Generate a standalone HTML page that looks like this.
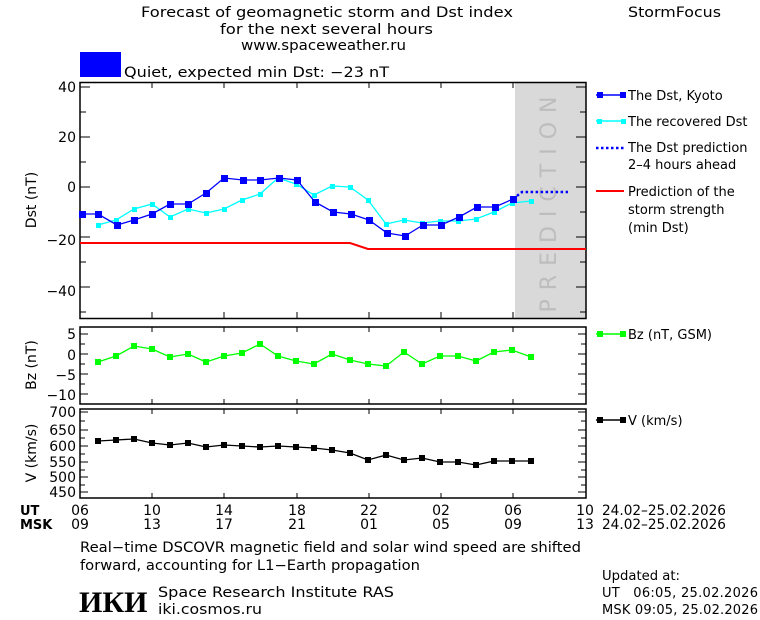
<!DOCTYPE html>
<html><head><style>
html,body{margin:0;padding:0;background:#fff;}
svg{display:block;font-family:"DejaVu Sans","Liberation Sans",sans-serif;}
text{font-size:14px;fill:#000;}
</style></head><body>
<svg width="760" height="620" viewBox="0 0 760 620" xmlns="http://www.w3.org/2000/svg">
<rect width="760" height="620" fill="#fff"/>
<text x="141" y="17" textLength="372" lengthAdjust="spacingAndGlyphs">Forecast of geomagnetic storm and Dst index</text>
<text x="220" y="34" textLength="213" lengthAdjust="spacingAndGlyphs">for the next several hours</text>
<text x="241" y="50" textLength="165" lengthAdjust="spacingAndGlyphs">www.spaceweather.ru</text>
<text x="628" y="17" textLength="93" lengthAdjust="spacingAndGlyphs">StormFocus</text>
<rect x="80" y="52" width="41" height="25" fill="#0000ff"/>
<text x="124" y="77" textLength="265" lengthAdjust="spacingAndGlyphs">Quiet, expected min Dst: −23 nT</text>

<rect x="515" y="82" width="71" height="236" fill="#d9d9d9"/>
<text transform="translate(556,200) rotate(-90)" text-anchor="middle" style="font-size:22px;fill:#bdbdbd;letter-spacing:9px">PREDICTION</text>
<g stroke="#000" stroke-width="1.5" fill="none">
<rect x="80" y="82.5" width="506" height="236"/>
<rect x="80" y="327" width="506" height="77"/>
<rect x="80" y="409" width="506" height="89"/>
</g>
<g stroke="#000" stroke-width="1">
<path d="M80 87h10M80 112h6M80 137h10M80 162h6M80 187h10M80 212h6M80 237h10M80 262h6M80 287h10M80 312h6"/>
<path d="M586 87h-10M586 112h-6M586 137h-10M586 162h-6M586 187h-10M586 212h-6M586 237h-10M586 262h-6M586 287h-10M586 312h-6"/>
<path d="M152 82v6M224 82v6M297 82v6M369 82v6M441 82v6M513 82v6M152 318v-6M224 318v-6M297 318v-6M369 318v-6M441 318v-6M513 318v-6"/>
<path d="M152 327v5M224 327v5M297 327v5M369 327v5M441 327v5M513 327v5M152 404v-5M224 404v-5M297 404v-5M369 404v-5M441 404v-5M513 404v-5"/>
<path d="M152 409v5M224 409v5M297 409v5M369 409v5M441 409v5M513 409v5M152 498v-5M224 498v-5M297 498v-5M369 498v-5M441 498v-5M513 498v-5"/>
<path d="M80 334h8M80 344h5M80 354h8M80 364h5M80 374h8M80 384h5M80 394h8M586 334h-8M586 344h-5M586 354h-8M586 364h-5M586 374h-8M586 384h-5M586 394h-8"/>
<path d="M80 412h8M80 421h5M80 430h8M80 438h5M80 446h8M80 454h5M80 462h8M80 470h5M80 477h8M80 485h5M80 492h8M586 412h-8M586 421h-5M586 430h-8M586 438h-5M586 446h-8M586 454h-5M586 462h-8M586 470h-5M586 477h-8M586 485h-5M586 492h-8"/>
</g>
<g text-anchor="end">
<text x="76" y="92">40</text><text x="76" y="142">20</text><text x="76" y="192">0</text><text x="76" y="245">−20</text><text x="76" y="296">−40</text>
<text x="76" y="339">5</text><text x="76" y="360">0</text><text x="76" y="380">−5</text><text x="76" y="400">−10</text>
<text x="76" y="417">700</text><text x="76" y="435">650</text><text x="76" y="451">600</text><text x="76" y="467">550</text><text x="76" y="482">500</text><text x="76" y="497">450</text>
</g>
<text transform="translate(36,200) rotate(-90)" text-anchor="middle">Dst (nT)</text>
<text transform="translate(36,365) rotate(-90)" text-anchor="middle">Bz (nT)</text>
<text transform="translate(36,453) rotate(-90)" text-anchor="middle">V (km/s)</text>

<polyline points="80,243 350,243 368,249 586,249" fill="none" stroke="#ff0000" stroke-width="2"/>
<polyline fill="none" stroke="#00ffff" stroke-width="1.3" points="98,225 116,220 134,209 152,204 170,217 188,209 206,213 224,209 242,200 260,194 278,178 296,184 314,195 332,186 350,187 368,200 386,224 404,220 422,223 440,221 458,221 476,219 494,212 512,203 531,201"/>
<g fill="#00ffff">
<rect x="96" y="223" width="5" height="5"/><rect x="114" y="218" width="5" height="5"/><rect x="132" y="207" width="5" height="5"/><rect x="150" y="202" width="5" height="5"/><rect x="168" y="215" width="5" height="5"/><rect x="186" y="207" width="5" height="5"/><rect x="204" y="211" width="5" height="5"/><rect x="222" y="207" width="5" height="5"/><rect x="240" y="198" width="5" height="5"/><rect x="258" y="192" width="5" height="5"/><rect x="276" y="176" width="5" height="5"/><rect x="294" y="182" width="5" height="5"/><rect x="312" y="193" width="5" height="5"/><rect x="330" y="184" width="5" height="5"/><rect x="348" y="185" width="5" height="5"/><rect x="366" y="198" width="5" height="5"/><rect x="384" y="222" width="5" height="5"/><rect x="402" y="218" width="5" height="5"/><rect x="420" y="221" width="5" height="5"/><rect x="438" y="219" width="5" height="5"/><rect x="456" y="219" width="5" height="5"/><rect x="474" y="217" width="5" height="5"/><rect x="492" y="210" width="5" height="5"/><rect x="510" y="201" width="5" height="5"/><rect x="529" y="199" width="5" height="5"/>
</g>
<polyline fill="none" stroke="#0000ff" stroke-width="1.3" points="82,214 98,214 117,225 134,220 152,214 170,204 188,204 206,193 224,178 243,180 260,180 279,178 297,180 315,202 333,212 351,214 369,220 387,233 405,236 423,225 441,225 459,217 477,207 495,207 513,199"/>
<polyline fill="none" stroke="#0000ff" stroke-width="2.5" stroke-dasharray="2.5,2.5" points="513,199 522,192 568,192"/>
<g fill="#0000ff">
<rect x="79" y="211" width="7" height="7"/><rect x="95" y="211" width="7" height="7"/><rect x="114" y="222" width="7" height="7"/><rect x="131" y="217" width="7" height="7"/><rect x="149" y="211" width="7" height="7"/><rect x="167" y="201" width="7" height="7"/><rect x="185" y="201" width="7" height="7"/><rect x="203" y="190" width="7" height="7"/><rect x="221" y="175" width="7" height="7"/><rect x="240" y="177" width="7" height="7"/><rect x="257" y="177" width="7" height="7"/><rect x="276" y="175" width="7" height="7"/><rect x="294" y="177" width="7" height="7"/><rect x="312" y="199" width="7" height="7"/><rect x="330" y="209" width="7" height="7"/><rect x="348" y="211" width="7" height="7"/><rect x="366" y="217" width="7" height="7"/><rect x="384" y="230" width="7" height="7"/><rect x="402" y="233" width="7" height="7"/><rect x="420" y="222" width="7" height="7"/><rect x="438" y="222" width="7" height="7"/><rect x="456" y="214" width="7" height="7"/><rect x="474" y="204" width="7" height="7"/><rect x="492" y="204" width="7" height="7"/><rect x="510" y="196" width="7" height="7"/>
</g>
<polyline fill="none" stroke="#00ff00" stroke-width="1.3" points="98,362 116,356 134,346 152,349 170,357 188,354 206,362 224,356 242,353 260,344 278,356 296,361 314,364 332,354 350,360 368,364 386,366 404,352 422,364 440,356 458,356 476,361 494,352 512,350 531,357"/>
<g fill="#00ff00">
<rect x="95" y="359" width="6" height="6"/><rect x="113" y="353" width="6" height="6"/><rect x="131" y="343" width="6" height="6"/><rect x="149" y="346" width="6" height="6"/><rect x="167" y="354" width="6" height="6"/><rect x="185" y="351" width="6" height="6"/><rect x="203" y="359" width="6" height="6"/><rect x="221" y="353" width="6" height="6"/><rect x="239" y="350" width="6" height="6"/><rect x="257" y="341" width="6" height="6"/><rect x="275" y="353" width="6" height="6"/><rect x="293" y="358" width="6" height="6"/><rect x="311" y="361" width="6" height="6"/><rect x="329" y="351" width="6" height="6"/><rect x="347" y="357" width="6" height="6"/><rect x="365" y="361" width="6" height="6"/><rect x="383" y="363" width="6" height="6"/><rect x="401" y="349" width="6" height="6"/><rect x="419" y="361" width="6" height="6"/><rect x="437" y="353" width="6" height="6"/><rect x="455" y="353" width="6" height="6"/><rect x="473" y="358" width="6" height="6"/><rect x="491" y="349" width="6" height="6"/><rect x="509" y="347" width="6" height="6"/><rect x="528" y="354" width="6" height="6"/>
</g>
<polyline fill="none" stroke="#000" stroke-width="1.3" points="98,441 116,440 134,439 152,443 170,445 188,443 206,447 224,445 242,446 260,447 278,446 296,447 314,448 332,450 350,453 368,460 386,455 404,460 422,458 440,462 458,462 476,465 494,461 512,461 531,461"/>
<g fill="#000">
<rect x="95" y="438" width="6" height="6"/><rect x="113" y="437" width="6" height="6"/><rect x="131" y="436" width="6" height="6"/><rect x="149" y="440" width="6" height="6"/><rect x="167" y="442" width="6" height="6"/><rect x="185" y="440" width="6" height="6"/><rect x="203" y="444" width="6" height="6"/><rect x="221" y="442" width="6" height="6"/><rect x="239" y="443" width="6" height="6"/><rect x="257" y="444" width="6" height="6"/><rect x="275" y="443" width="6" height="6"/><rect x="293" y="444" width="6" height="6"/><rect x="311" y="445" width="6" height="6"/><rect x="329" y="447" width="6" height="6"/><rect x="347" y="450" width="6" height="6"/><rect x="365" y="457" width="6" height="6"/><rect x="383" y="452" width="6" height="6"/><rect x="401" y="457" width="6" height="6"/><rect x="419" y="455" width="6" height="6"/><rect x="437" y="459" width="6" height="6"/><rect x="455" y="459" width="6" height="6"/><rect x="473" y="462" width="6" height="6"/><rect x="491" y="458" width="6" height="6"/><rect x="509" y="458" width="6" height="6"/><rect x="528" y="458" width="6" height="6"/>
</g>

<path d="M596 95h28" stroke="#0000ff" stroke-width="1.5"/><rect x="597" y="92" width="6" height="6" fill="#0000ff"/><rect x="620" y="92" width="6" height="6" fill="#0000ff"/>
<text x="628" y="100" style="font-size:13px">The Dst, Kyoto</text>
<path d="M596 121h28" stroke="#00ffff" stroke-width="1.5"/><rect x="597" y="119" width="5" height="5" fill="#00ffff"/><rect x="621" y="119" width="5" height="5" fill="#00ffff"/>
<text x="628" y="126" style="font-size:13px">The recovered Dst</text>
<path d="M596 148h28" stroke="#0000ff" stroke-width="2.5" stroke-dasharray="2.5,2.5"/>
<text x="628" y="152" style="font-size:13px">The Dst prediction</text>
<text x="628" y="169" style="font-size:13px">2–4 hours ahead</text>
<path d="M596 191h28" stroke="#ff0000" stroke-width="2"/>
<text x="628" y="196" style="font-size:13px">Prediction of the</text>
<text x="628" y="214" style="font-size:13px">storm strength</text>
<text x="628" y="232" style="font-size:13px">(min Dst)</text>
<path d="M596 334h28" stroke="#00ff00" stroke-width="1.5"/><rect x="597" y="331" width="6" height="6" fill="#00ff00"/><rect x="620" y="331" width="6" height="6" fill="#00ff00"/>
<text x="628" y="339" style="font-size:13px">Bz (nT, GSM)</text>
<path d="M596 420h28" stroke="#000" stroke-width="1.5"/><rect x="597" y="417" width="6" height="6"/><rect x="620" y="417" width="6" height="6"/>
<text x="628" y="425" style="font-size:13px">V (km/s)</text>

<text x="20" y="515" style="font-weight:bold;font-size:13px">UT</text>
<text x="20" y="529" style="font-weight:bold;font-size:13px">MSK</text>
<g text-anchor="middle">
<text x="80" y="515">06</text><text x="152" y="515">10</text><text x="224" y="515">14</text><text x="297" y="515">18</text><text x="369" y="515">22</text><text x="441" y="515">02</text><text x="513" y="515">06</text><text x="585" y="515">10</text>
<text x="80" y="529">09</text><text x="152" y="529">13</text><text x="224" y="529">17</text><text x="297" y="529">21</text><text x="369" y="529">01</text><text x="441" y="529">05</text><text x="513" y="529">09</text><text x="585" y="529">13</text>
</g>
<text x="602" y="515" textLength="124" lengthAdjust="spacingAndGlyphs">24.02–25.02.2026</text>
<text x="602" y="529" textLength="124" lengthAdjust="spacingAndGlyphs">24.02–25.02.2026</text>
<text x="80" y="552" textLength="501" lengthAdjust="spacingAndGlyphs">Real−time DSCOVR magnetic field and solar wind speed are shifted</text>
<text x="80" y="570" textLength="340" lengthAdjust="spacingAndGlyphs">forward, accounting for L1−Earth propagation</text>
<text x="79" y="612" style="font-family:'Liberation Serif',serif;font-weight:bold;font-size:30px">ИКИ</text>
<text x="158" y="597" textLength="236" lengthAdjust="spacingAndGlyphs">Space Research Institute RAS</text>
<text x="158" y="614" textLength="104" lengthAdjust="spacingAndGlyphs">iki.cosmos.ru</text>
<text x="602" y="580" style="font-size:13px" textLength="78" lengthAdjust="spacingAndGlyphs">Updated at:</text>
<text x="602" y="597" style="font-size:13px" textLength="156" lengthAdjust="spacing" xml:space="preserve">UT   06:05, 25.02.2026</text>
<text x="602" y="614" style="font-size:13px" textLength="156" lengthAdjust="spacing">MSK 09:05, 25.02.2026</text>
</svg>
</body></html>
